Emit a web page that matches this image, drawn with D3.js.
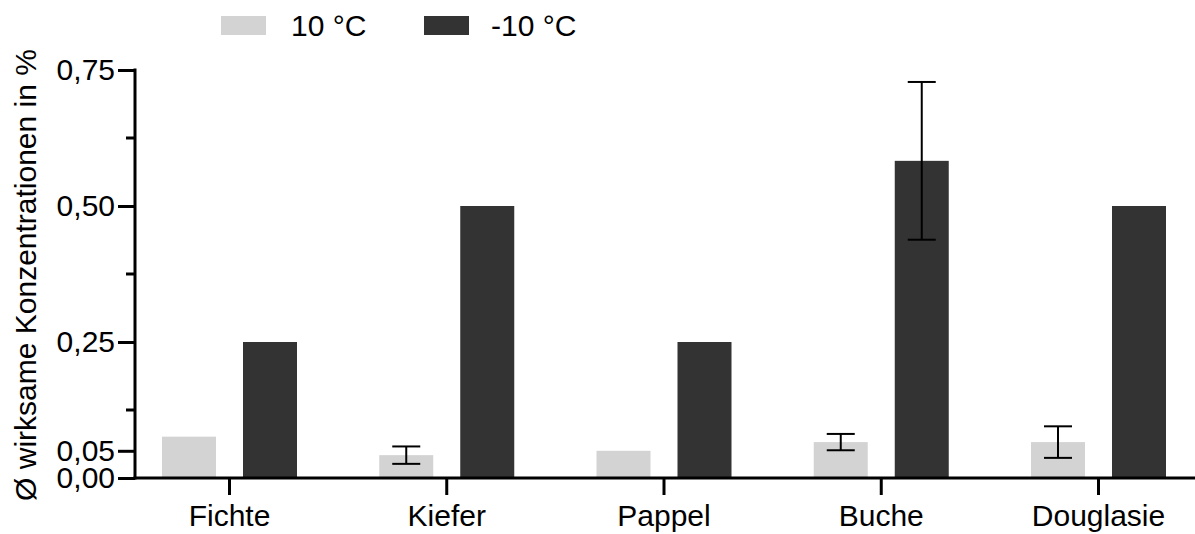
<!DOCTYPE html>
<html>
<head>
<meta charset="utf-8">
<script src="https://cdn.jsdelivr.net/npm/d3@7"></script>
<style>
  body { margin: 0; background: #fff; }
  svg { display: block; font-family: "Liberation Sans", Arial, sans-serif; }
</style>
</head>
<body>
<script>
// values
const categories = ['Fichte', 'Kiefer', 'Pappel', 'Buche', 'Douglasie']
const seriesNames = ['10 °C', '-10 °C']
const warmValues = [0.076, 0.042, 0.05, 0.066, 0.066]
const warmErrors = [0, 0.016, 0, 0.015, 0.029]
const coldValues = [0.25, 0.5, 0.25, 0.583, 0.5]
const coldErrors = [0, 0, 0, 0.145, 0]
const yTickValues = [0, 0.05, 0.25, 0.5, 0.75]
const yMinorTicks = [0.125, 0.375, 0.625]
const colors = ['#d3d3d3', '#333333']

;(function () {
  const width = 1195
  const height = 534
  const axisX = 135
  const svg = d3.select('body').append('svg')
    .attr('width', width).attr('height', height)

  const y = d3.scaleLinear().domain([0, 0.75]).range([478, 70])
  const x = d3.scalePoint().domain(categories).range([229, 1098])
  const xSub = d3.scaleBand().domain(seriesNames).range([-67, 68]).paddingInner(1 / 3)

  const rows = categories.map((c, i) => [
    { cat: c, s: seriesNames[0], v: warmValues[i], e: warmErrors[i] },
    { cat: c, s: seriesNames[1], v: coldValues[i], e: coldErrors[i] },
  ])
  const color = d3.scaleOrdinal().domain(seriesNames).range(colors)

  // bars
  const groups = svg.append('g').selectAll('g')
    .data(rows).enter().append('g')
    .attr('transform', (d) => `translate(${x(d[0].cat)},0)`)
  groups.selectAll('rect')
    .data((d) => d).enter().append('rect')
    .attr('x', (d) => xSub(d.s))
    .attr('width', xSub.bandwidth())
    .attr('y', (d) => y(d.v))
    .attr('height', (d) => y(0) - y(d.v))
    .attr('fill', (d) => color(d.s))

  // error bars
  const errs = groups.selectAll('g.err')
    .data((d) => d.filter((r) => r.e > 0)).enter().append('g')
    .attr('class', 'err')
    .attr('stroke', '#000').attr('stroke-width', 2)
  const cx = (d) => xSub(d.s) + xSub.bandwidth() / 2
  errs.append('line')
    .attr('x1', cx).attr('x2', cx)
    .attr('y1', (d) => y(d.v + d.e)).attr('y2', (d) => y(d.v - d.e))
  ;['+', '-'].forEach((sign) => {
    errs.append('line')
      .attr('x1', (d) => cx(d) - 14).attr('x2', (d) => cx(d) + 14)
      .attr('y1', (d) => y(sign === '+' ? d.v + d.e : d.v - d.e))
      .attr('y2', (d) => y(sign === '+' ? d.v + d.e : d.v - d.e))
  })

  // y axis
  const yAxis = svg.append('g')
    .attr('transform', `translate(${axisX},0)`)
    .call(d3.axisLeft(y).tickValues(yTickValues)
      .tickFormat((d) => d3.format('.2f')(d).replace('.', ','))
      .tickSize(17).tickPadding(3))
  yAxis.select('.domain').remove()
  yAxis.selectAll('.tick line').attr('stroke', '#000').attr('stroke-width', 3)
  yAxis.selectAll('.tick text').attr('font-size', 30).attr('fill', '#000')
    .attr('font-family', '"Liberation Sans", Arial, sans-serif')
  yAxis.selectAll('line.minor')
    .data(yMinorTicks).enter().append('line')
    .attr('class', 'minor')
    .attr('x1', -9).attr('x2', 0)
    .attr('y1', (d) => y(d)).attr('y2', (d) => y(d))
    .attr('stroke', '#000').attr('stroke-width', 3)
  yAxis.append('line')
    .attr('x1', 0).attr('x2', 0)
    .attr('y1', y(0.75) - 1.5).attr('y2', y(0) + 1.5)
    .attr('stroke', '#000').attr('stroke-width', 3)

  // x axis
  const xAxis = svg.append('g')
    .attr('transform', `translate(0,${y(0)})`)
    .call(d3.axisBottom(x).tickSize(17).tickPadding(10))
  xAxis.select('.domain').remove()
  xAxis.selectAll('.tick line').attr('stroke', '#000').attr('stroke-width', 3)
  xAxis.selectAll('.tick text').attr('font-size', 30).attr('fill', '#000')
    .attr('font-family', '"Liberation Sans", Arial, sans-serif')
  xAxis.append('line')
    .attr('x1', axisX - 1.5).attr('x2', width)
    .attr('y1', 0).attr('y2', 0)
    .attr('stroke', '#000').attr('stroke-width', 3)

  // y label
  svg.append('text')
    .attr('transform', `translate(36,${275})rotate(-90)`)
    .attr('text-anchor', 'middle')
    .attr('font-size', 30)
    .text('Ø wirksame Konzentrationen in %')

  // legend
  const legendX = [221, 424]
  const legend = svg.append('g').selectAll('g')
    .data(seriesNames).enter().append('g')
    .attr('transform', (d, i) => `translate(${legendX[i]},16)`)
  legend.append('rect')
    .attr('width', 45).attr('height', 19)
    .attr('fill', (d) => color(d))
  legend.append('text')
    .attr('x', (d, i) => (i === 0 ? 70 : 67))
    .attr('y', 20)
    .attr('font-size', 30)
    .text((d) => d)
})()
</script>
</body>
</html>
